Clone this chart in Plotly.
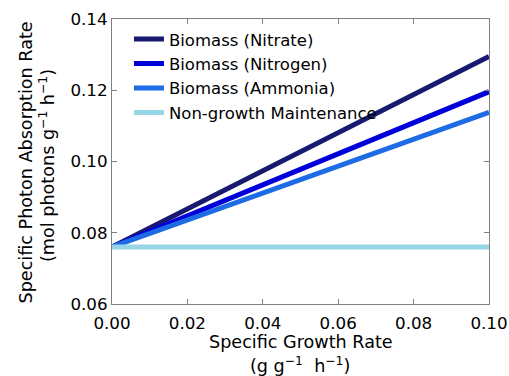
import plotly.graph_objects as go

growth = [0.0, 0.1]
nitrate = [0.076, 0.1295]
nitrogen = [0.076, 0.1196]
ammonia = [0.076, 0.1138]
maintenance = [0.076, 0.076]

names = ["Biomass (Nitrate)", "Biomass (Nitrogen)", "Biomass (Ammonia)", "Non-growth Maintenance"]
colors = ["#191970", "#0000D8", "#1E6BE6", "#96D6E6"]
series = [nitrate, nitrogen, ammonia, maintenance]

xtitle = ["Specific Growth Rate", "(g g<sup>\u22121</sup>  h<sup>\u22121</sup>)"]
ytitle = ["Specific Photon Absorption Rate", "(mol photons g<sup>\u22121</sup> h<sup>\u22121</sup>)"]

fig = go.Figure()
for n, c, s in zip(names, colors, series):
    fig.add_trace(go.Scatter(x=growth, y=s, mode="lines", name=n,
                             line=dict(color=c, width=5)))

tickfont = dict(family="DejaVu Sans", size=16.7, color="black")
axcommon = dict(showgrid=False, zeroline=False, showline=True, linecolor="#808080",
                linewidth=1.2, mirror="ticks", ticks="inside", ticklen=5,
                tickcolor="#808080", tickfont=tickfont, automargin=False)

L, R, T, B, W, H = 112, 20, 19, 72, 509, 376
pw, ph = W - L - R, H - T - B

def px(x):
    return (x - L) / pw

def py(y):
    return (H - B - y) / ph

fig.update_layout(
    width=W, height=H,
    margin=dict(l=L, r=R, t=T, b=B),
    plot_bgcolor="white", paper_bgcolor="white",
    font=tickfont,
    showlegend=True,
    legend=dict(x=0.045, y=0.99, xanchor="left", yanchor="top",
                bgcolor="rgba(0,0,0,0)", borderwidth=0,
                font=dict(family="DejaVu Sans", size=16.5, color="black"),
                tracegroupgap=0),
    xaxis=dict(range=[0, 0.1], tickvals=[0, 0.02, 0.04, 0.06, 0.08, 0.1],
               tickformat=".2f", ticklabelstandoff=4, **axcommon),
    yaxis=dict(range=[0.06, 0.14], tickvals=[0.06, 0.08, 0.1, 0.12, 0.14],
               tickformat=".2f", ticklabelstandoff=0, **axcommon),
)

tfont = dict(family="DejaVu Sans", size=17.6, color="black")
fig.add_annotation(text=xtitle[0], x=px(301), y=py(342), xref="paper", yref="paper",
                   xanchor="center", yanchor="middle", showarrow=False, font=tfont)
fig.add_annotation(text=xtitle[1], x=px(300), y=py(365), xref="paper", yref="paper",
                   xanchor="center", yanchor="middle", showarrow=False, font=tfont)
fig.add_annotation(text=ytitle[0], x=px(25), y=py(162.5), xref="paper", yref="paper",
                   xanchor="center", yanchor="middle", showarrow=False, font=tfont,
                   textangle=-90)
fig.add_annotation(text=ytitle[1], x=px(47), y=py(166), xref="paper", yref="paper",
                   xanchor="center", yanchor="middle", showarrow=False, font=tfont,
                   textangle=-90)

fig.write_html("out.html")
